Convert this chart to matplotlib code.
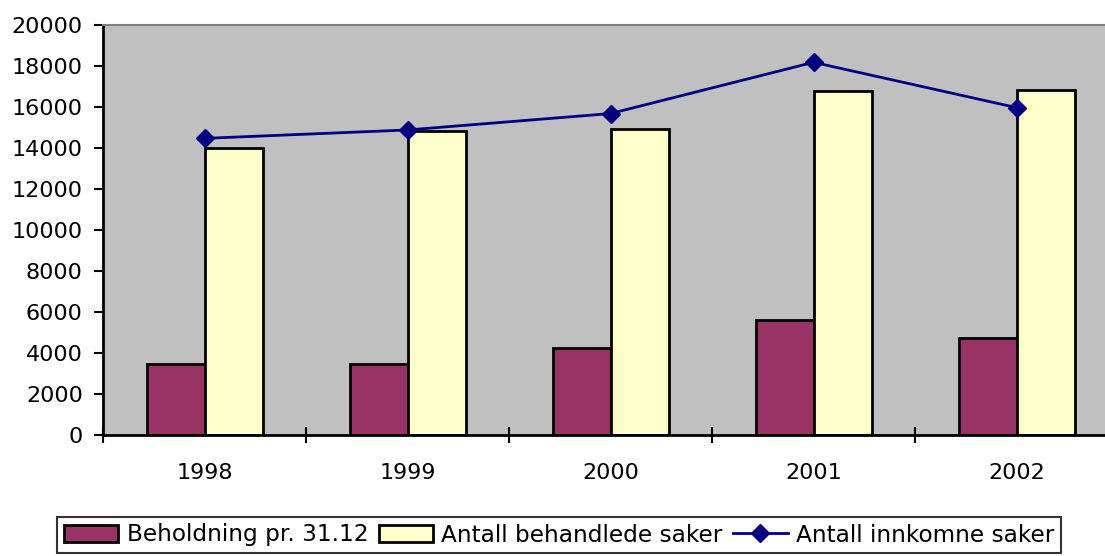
import numpy as np
import matplotlib
matplotlib.use("Agg")
import matplotlib.pyplot as plt

plt.rcParams['font.family'] = ['DejaVu Sans']

# data
years = ["1998", "1999", "2000", "2001", "2002"]
beholdning = [3470, 3460, 4230, 5610, 4720]
behandlede = [13990, 14830, 14940, 16800, 16830]
innkomne = [14470, 14880, 15680, 18180, 15970]

MAROON = "#993366"
PALE = "#FFFFCC"
NAVY = "#000080"
GREY = "#C0C0C0"
FS = 16

fig = plt.figure(figsize=(11.05, 5.56), dpi=100)
# plot area runs past the right edge of the picture, as in the original
ax = fig.add_axes([103 / 1105, 1 - 435 / 556, 1015 / 1105, 410 / 556])
ax.set_facecolor(GREY)

x = np.arange(len(years))
w = 58 / 203
b1 = ax.bar(x - w / 2, beholdning, w, color=MAROON, edgecolor="black", linewidth=2,
            label="Beholdning pr. 31.12", zorder=2)
b2 = ax.bar(x + w / 2, behandlede, w, color=PALE, edgecolor="black", linewidth=2,
            label="Antall behandlede saker", zorder=2)
l1, = ax.plot(x, innkomne, color=NAVY, linewidth=2, marker="D", markersize=9,
              label="Antall innkomne saker", zorder=3)

ax.set_xlim(-0.5, 4.5)
ax.set_ylim(0, 20000)
ax.set_yticks(np.arange(0, 20001, 2000))

ax.set_xticks(x)
ax.set_xticklabels(years)
ax.set_xticks(np.arange(-0.5, 5, 1), minor=True)
ax.tick_params(axis="x", which="major", length=0, pad=20, labelsize=FS)
ax.tick_params(axis="x", which="minor", direction="inout", length=11.5, width=1.5)
ax.tick_params(axis="y", direction="out", length=6.5, width=1.5, pad=8, labelsize=FS)

for side in ["left", "bottom"]:
    ax.spines[side].set_color("black")
    ax.spines[side].set_linewidth(2)
ax.spines["top"].set_color("#808080")
ax.spines["top"].set_linewidth(1.5)
ax.spines["right"].set_visible(False)

leg = fig.legend([b1, b2, l1],
                 ["Beholdning pr. 31.12", "Antall behandlede saker", "Antall innkomne saker"],
                 loc="center", bbox_to_anchor=(559 / 1105, 1 - 535 / 556), ncol=3,
                 fontsize=16.7, frameon=True, fancybox=False, edgecolor="black",
                 handlelength=2.35, handleheight=0.75, handletextpad=0.35,
                 columnspacing=0.45, borderpad=0.3, borderaxespad=0)
leg.get_frame().set_linewidth(1.5)

fig.savefig("out.png", dpi=100)
